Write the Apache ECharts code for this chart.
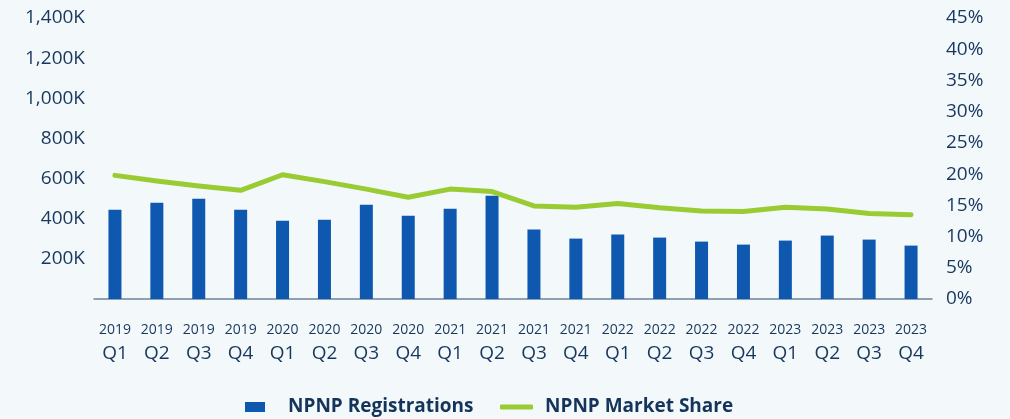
<!DOCTYPE html>
<html>
<head>
<meta charset="utf-8">
<script src="https://cdn.jsdelivr.net/npm/echarts@6/dist/echarts.min.js"></script>
<style>
html,body{margin:0;padding:0;background:#f3f8fb;}
#chart{width:1010px;height:419px;}
</style>
</head>
<body>
<div id="chart"></div>
<script>
const years = ['2019','2019','2019','2019','2020','2020','2020','2020','2021','2021','2021','2021','2022','2022','2022','2022','2023','2023','2023','2023'];
const quarters = ['Q1','Q2','Q3','Q4','Q1','Q2','Q3','Q4','Q1','Q2','Q3','Q4','Q1','Q2','Q3','Q4','Q1','Q2','Q3','Q4'];
const registrations = [445,480,500,445,390,395,470,415,450,515,346,301,321,306,286,271,291,316,296,266]; // thousands
const marketShare = [19.8,18.9,18.1,17.4,19.9,18.8,17.6,16.3,17.6,17.2,14.9,14.7,15.3,14.6,14.1,14.0,14.7,14.4,13.7,13.5]; // percent
const categories = years.map((y,i)=>y+'\n'+quarters[i]);

const txt = '#17375e';
const font = 'Open Sans';
const chart = echarts.init(document.getElementById('chart'));
chart.setOption({
  backgroundColor:'#f3f8fb',
  animation:false,
  textStyle:{fontFamily:font,color:txt},
  grid:{left:94,right:78,top:18,bottom:120,containLabel:false},
  legend:[{
    data:['NPNP Registrations'],left:245,top:396,padding:0,itemWidth:20,itemHeight:10,
    icon:'rect',
    textStyle:{fontFamily:font,fontWeight:'bold',fontSize:19,lineHeight:22,color:'#15345a',padding:[0,0,0,18]}
  },{
    data:['NPNP Market Share'],left:500,top:396,padding:0,itemWidth:33,itemHeight:5,
    icon:'roundRect',
    textStyle:{fontFamily:font,fontWeight:'bold',fontSize:19,lineHeight:22,color:'#15345a',padding:[0,0,0,7]}
  }],
  xAxis:{
    type:'category',data:categories,
    axisLine:{show:true,lineStyle:{color:'#6f8499',width:1.5}},
    axisTick:{show:false},
    axisLabel:{
      interval:0,margin:21,
      formatter:(v)=>{const p=v.split('\n');return '{y|'+p[0]+'}\n{q|'+p[1]+'}';},
      rich:{
        y:{fontFamily:font,fontSize:14,color:txt,lineHeight:21},
        q:{fontFamily:font,fontSize:19,color:txt,lineHeight:25}
      }
    }
  },
  yAxis:[{
    type:'value',min:0,max:1400,interval:200,
    splitLine:{show:false},axisLine:{show:false},axisTick:{show:false},
    axisLabel:{margin:9,fontFamily:font,fontSize:19,color:txt,
      formatter:(v)=>v===0?'':v.toLocaleString('en-US')+'K'}
  },{
    type:'value',min:0,max:45,interval:5,position:'right',
    splitLine:{show:false},axisLine:{show:false},axisTick:{show:false},
    axisLabel:{margin:14,fontFamily:font,fontSize:19,color:txt,formatter:'{value}%'}
  }],
  series:[{
    name:'NPNP Registrations',type:'bar',data:registrations,
    barWidth:13,itemStyle:{color:'#0f58b0'}
  },{
    name:'NPNP Market Share',type:'line',yAxisIndex:1,data:marketShare,
    symbol:'none',smooth:false,
    lineStyle:{color:'#99cc33',width:5,cap:'round',join:'round'},
    itemStyle:{color:'#99cc33'}
  }]
});
</script>
</body>
</html>
